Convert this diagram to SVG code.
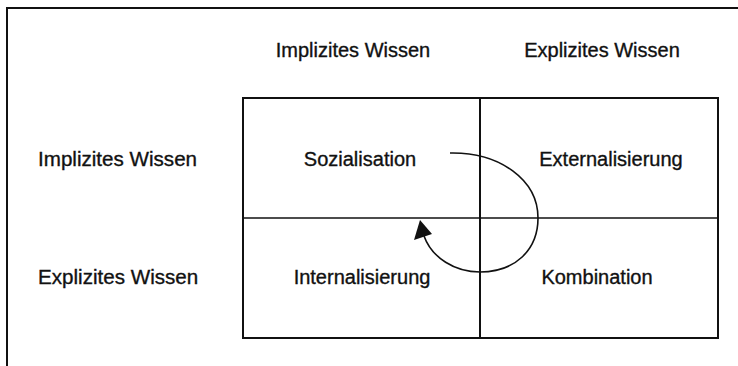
<svg xmlns="http://www.w3.org/2000/svg" width="738" height="366" viewBox="0 0 738 366">
<style>
  .t { font-family: "Liberation Sans", Arial, sans-serif; font-size: 20px; fill: #111; stroke: #111; stroke-width: 0.35; }
  .m { text-anchor: middle; }
  .w { font-size: 20.6px; }
  .ln { stroke: #111; stroke-width: 2; fill: none; }
  .cv { stroke: #111; stroke-width: 1.6; fill: none; }
</style>
<rect width="738" height="366" fill="#fff"/>
<g id="frame">
  <path class="ln" d="M7,366 L7,8 L738,8"/>
</g>
<g id="header-implizit"><text class="t m" x="353" y="57">Implizites Wissen</text></g>
<g id="header-explizit"><text class="t m" x="602" y="57">Explizites Wissen</text></g>
<g id="row-implizit"><text class="t w" x="38" y="166">Implizites Wissen</text></g>
<g id="row-explizit"><text class="t w" x="38" y="284">Explizites Wissen</text></g>
<g id="grid">
  <rect class="ln" x="243" y="98" width="475" height="240"/>
  <line class="ln" x1="480" y1="98" x2="480" y2="338"/>
  <line class="ln" x1="243" y1="218" x2="718" y2="218" style="stroke-width:1.5"/>
</g>
<g id="sozialisation"><text class="t m" x="360" y="166">Sozialisation</text></g>
<g id="externalisierung"><text class="t m" x="611" y="166">Externalisierung</text></g>
<g id="internalisierung"><text class="t m" x="362" y="284">Internalisierung</text></g>
<g id="kombination"><text class="t m" x="597" y="284">Kombination</text></g>
<g id="connectors">
  <path class="cv" d="M450,153 C500,152 538,180 538,218 C538,250 515,272 480,272 C455,272 432,258 424,236"/>
  <polygon points="420,220 414,240 432,234" fill="#111"/>
</g>
</svg>
